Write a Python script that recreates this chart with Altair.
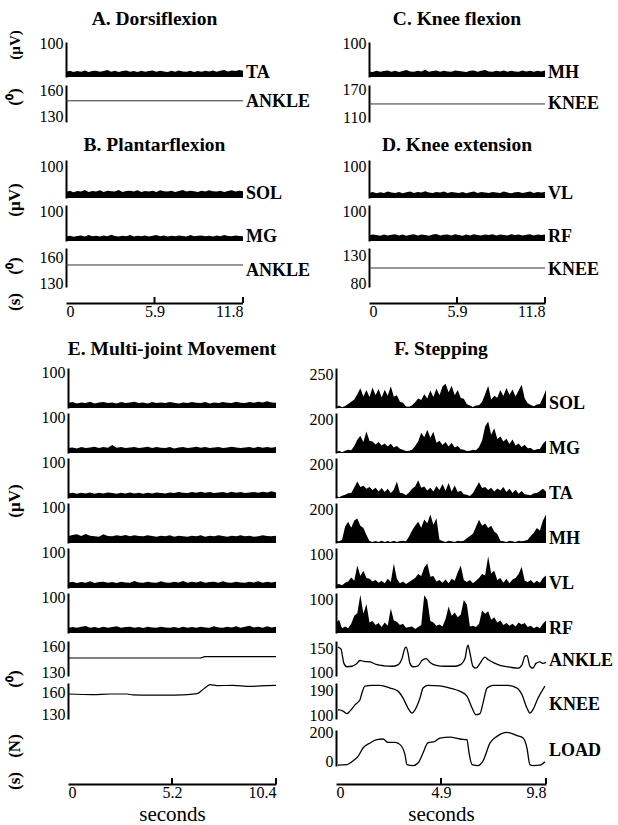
import altair as alt
import pandas as pd

FONT = "Liberation Serif"

# ---------------- time spans (s) ----------------
T_TOP, T_TOP_MID = 11.8, 5.9
T_E, T_E_MID = 10.4, 5.2
T_F, T_F_MID = 9.8, 4.9

# ---------------- A-D: isolated movements, EMG (uV) ----------------
A_TA = [16,19,15,18,16,20,15,18,19,16,18,21,16,19,15,18,20,16,18,15,19,16,18,20,
        16,19,17,15,19,16,20,17,16,19,15,18,16,19,17,20,16,19,21,17,20,18,21,19]
C_MH = [17,15,19,16,18,20,16,19,15,18,21,17,16,19,17,22,16,18,20,16,19,17,16,20,
        18,17,15,19,20,16,19,21,17,16,19,17,20,16,19,17,16,20,17,19,16,19,17,20]
B_SOL = [19,23,18,22,20,25,19,22,20,24,19,23,21,20,25,19,22,23,20,24,19,22,20,23,
         19,24,21,20,23,19,22,25,20,23,21,19,23,20,24,21,20,23,19,22,24,20,23,21]
B_MG = [15,18,14,17,19,15,20,16,18,15,19,16,21,17,15,18,16,20,15,18,16,19,15,18,
        20,16,19,15,18,16,19,17,15,20,16,18,19,16,18,15,19,16,20,17,16,19,17,16]
D_VL = [16,19,15,18,16,20,17,16,19,15,18,20,16,19,17,21,17,16,19,17,20,16,19,17,
        16,19,15,18,20,16,19,17,16,19,17,16,20,17,15,18,19,16,18,20,16,19,17,19]
D_RF = [19,22,20,18,22,19,21,23,19,22,18,21,23,19,22,20,18,22,24,19,21,22,19,23,
        20,18,22,19,23,20,19,22,20,23,19,22,20,19,23,20,22,19,21,23,19,22,20,22]
# joint angles held constant (deg)
A_ANKLE = 148.0
C_KNEE = 139.0
B_ANKLE = 150.8
D_KNEE = 106.8

# ---------------- E: multi-joint movement ----------------
E1 = [14,17,13,16,14,18,13,16,17,14,16,13,17,14,16,18,14,16,13,17,14,16,14,17,
      15,13,16,14,17,15,14,17,13,16,14,17,15,14,18,15,14,17,15,18,16,19,16,15]
E2 = [14,16,13,17,14,16,18,14,17,15,23,15,17,14,16,17,14,16,18,14,17,15,14,17,
      13,16,17,14,16,18,15,17,14,16,17,14,16,18,16,14,16,17,14,18,15,17,15,17]
E3 = [13,15,12,15,13,16,12,15,13,16,14,12,15,13,16,13,15,12,15,13,16,14,13,16,
      14,17,15,14,17,15,18,15,17,14,16,17,14,18,15,17,14,16,17,15,18,16,19,16]
E4 = [19,23,25,20,26,21,19,18,25,20,19,22,20,23,19,22,20,19,22,20,18,21,19,22,
      18,21,19,18,21,19,22,18,21,19,22,20,18,21,19,22,19,21,18,19,22,20,19,21]
E5 = [15,18,14,17,15,19,14,17,18,15,17,14,18,16,15,20,16,15,18,16,15,19,16,15,
      18,16,20,15,18,16,19,15,17,18,15,19,16,15,18,16,15,18,16,19,15,18,16,18]
E6 = [14,17,15,18,20,15,17,14,18,15,17,19,15,17,18,15,17,14,18,16,15,18,16,15,
      17,14,18,15,17,15,18,16,15,19,16,15,18,16,19,15,18,21,16,18,15,19,16,18]
E_ANKLE_T = [0, 6.6, 6.85, 10.4]
E_ANKLE_V = [147.3, 147.3, 148.8, 148.8]
E_KNEE_T = [0, 1.25, 2.1, 2.95, 3.25, 4.1, 4.95, 5.75, 6.45, 6.7, 6.95, 7.1, 7.45, 8.25, 9.1, 9.95, 10.4]
E_KNEE_V = [158.6, 157.7, 158.6, 158.6, 157.3, 157, 157, 157.3, 159, 163.6, 169, 171.3, 170, 170.4, 169, 170, 170.4]

# ---------------- F: stepping ----------------
F_SOL = [8,18,6,16,30,48,64,104,150,88,136,84,156,96,144,80,138,92,164,86,96,48,40,12,10,
         20,44,72,60,104,72,132,84,148,96,162,184,120,168,96,136,76,70,28,18,8,18,20,48,104,
         168,64,92,78,136,90,152,100,140,88,132,176,72,36,22,14,26,30,80,136]
F_MG = [6,14,5,13,20,16,42,80,104,66,130,74,70,52,66,46,58,40,56,34,42,26,20,12,14,
        20,42,70,122,96,140,92,128,62,74,48,66,40,62,34,42,22,20,12,14,20,17,36,76,160,
        190,110,150,84,100,70,86,54,82,46,58,36,50,28,30,16,22,24,56,74]
F_TA = [14,5,14,20,28,30,64,100,66,74,56,66,48,62,40,60,36,56,30,50,100,32,28,16,34,
        56,70,108,62,70,46,62,40,72,48,84,44,90,40,76,36,44,22,20,12,30,64,96,60,66,
        48,62,40,58,46,66,36,56,30,50,26,42,22,20,16,28,30,42,56,40]
F_MH = [13,10,19,100,128,92,136,148,104,90,48,12,6,12,6,13,6,12,6,13,6,12,13,10,40,
        76,104,128,92,142,120,172,110,150,20,12,6,13,10,6,13,10,13,28,42,56,98,140,104,118,
        90,104,70,54,13,10,6,13,10,6,13,10,13,20,42,62,90,76,136,172]
F_VL = [10,12,8,16,20,32,22,68,36,52,30,28,20,24,16,22,14,28,18,74,28,14,20,12,18,
        24,30,42,36,62,74,34,36,20,24,16,26,14,28,22,48,68,24,18,24,14,22,30,42,38,
        96,44,52,24,30,16,28,14,26,30,42,64,22,18,24,14,22,16,30,38]
F_RF = [30,40,14,20,14,28,52,60,116,58,88,32,36,24,30,18,32,22,74,38,34,24,28,16,18,
        20,12,18,24,114,100,36,32,22,26,20,42,80,52,62,48,56,100,86,20,22,18,28,68,58,
        66,40,48,32,38,24,30,22,28,20,32,26,30,18,22,14,20,14,28,38]
F_ANKLE_T = [0.09,0.23,0.37,0.51,0.75,0.93,1.12,1.31,1.59,1.87,2.24,2.61,2.89,3.08,3.22,3.27,3.36,3.45,
             3.59,3.83,4.01,4.2,4.39,4.67,5.09,5.55,5.83,6.02,6.11,6.16,6.25,6.39,6.53,6.72,6.95,7.09,
             7.37,7.65,8.12,8.49,8.68,8.82,8.91,9.05,9.19,9.33,9.52,9.66,9.8]
F_ANKLE_V = [152,148,118,111,112,116,124,122,121,116,113,112,115,128,150,152,140,118,
             111,113,124,128,120,114,112,112,116,128,150,156,140,112,108,118,131,126,
             119,114,110,108,115,133,134,112,108,118,121,118,120]
F_KNEE_T = [0.09,0.33,0.51,0.65,0.89,1.12,1.21,1.35,1.68,2.05,2.52,2.89,3.13,3.36,3.55,3.69,3.92,4.06,
            4.29,4.85,5.32,5.79,6.11,6.35,6.53,6.72,6.86,7.05,7.33,7.98,8.45,8.68,8.91,9.05,9.19,9.43,9.75]
F_KNEE_V = [119,114,105,114,137,155,179,204,207,207,197,186,161,125,107,119,161,197,
            207,205,197,185,168,125,101,105,143,197,207,207,197,173,125,107,119,161,204]
F_LOAD_T = [0.09,0.51,0.79,1.03,1.26,1.59,1.91,2.19,2.43,2.75,2.99,3.22,3.31,3.59,3.83,4.06,4.29,4.62,
            4.85,5.32,5.79,6.11,6.21,6.35,6.63,6.86,7.19,7.51,7.98,8.45,8.73,8.91,9.05,9.19,9.52,9.75]
F_LOAD_V = [-30,-26,0,33,93,129,152,157,133,133,117,45,-26,-33,-14,57,129,140,
            164,171,157,152,57,-26,-33,0,129,176,205,181,164,93,-26,-33,-30,-6]

# ---------------- layout (plot-area sizes) ----------------
TOP = (66, 177, 126, 176)      # left margin, left width, gap, right width
BOT = (68, 208, 60, 210)
TITLE_SIZE = 19.5


def yaxis(values):
    return alt.Axis(values=values, orient="left", domain=True, domainColor="black",
                    domainWidth=2, ticks=False, grid=False, labelFont=FONT,
                    labelFontSize=16, labelColor="black", labelPadding=3, title=None)


def xscale(T):
    return alt.Scale(domain=[0, T], nice=False, zero=False)


def label_layer(text, W, y, baseline, size):
    return alt.Chart(pd.DataFrame({"lab": [text]})).mark_text(
        align="left", baseline=baseline, font=FONT, fontSize=size, fontWeight="bold",
        color="black", dx=3).encode(text="lab:N", x=alt.value(W), y=y)


def emg(vals, T, W, H, D, tick, label=None, lsize=18):
    n = len(vals)
    df = pd.DataFrame({"t": [T * i / (n - 1) for i in range(n)], "v": vals})
    base = alt.Chart(df).mark_area(color="black", interpolate="linear").encode(
        x=alt.X("t:Q", scale=xscale(T), axis=None),
        y=alt.Y("v:Q", scale=alt.Scale(domain=[0, D], nice=False), axis=yaxis([tick])),
    )
    layers = [base]
    if label:
        layers.append(label_layer(label, W, alt.value(H + 0.5), "alphabetic", lsize))
    return alt.layer(*layers).properties(width=W, height=H)


def angle(ts, vs, T, W, H, dom, ticks, label=None, ly=0, color="black", sw=1.3, lsize=18):
    df = pd.DataFrame({"t": ts, "v": vs})
    base = alt.Chart(df).mark_line(color=color, strokeWidth=sw, interpolate="monotone").encode(
        x=alt.X("t:Q", scale=xscale(T), axis=None),
        y=alt.Y("v:Q", scale=alt.Scale(domain=dom, nice=False, zero=False), axis=yaxis(ticks)),
    )
    layers = [base]
    if label:
        layers.append(label_layer(label, W, alt.value(ly), "middle", lsize))
    return alt.layer(*layers).properties(width=W, height=H)


def taxis(T, mid, W, H=6, title=None):
    df = pd.DataFrame({"t": [mid, T]})
    return alt.Chart(df).mark_rule(color="black", strokeWidth=2).encode(
        x=alt.X("t:Q", scale=xscale(T), axis=alt.Axis(
            values=[0, mid, T], format=".1~f", domain=True, domainColor="black", domainWidth=2,
            ticks=False, grid=False, labelFlush=True, labelFont=FONT, labelFontSize=16,
            labelColor="black", labelPadding=0, title=title, titleFont=FONT, titleFontSize=21,
            titleFontWeight="normal", titleColor="black", titlePadding=3)),
        y=alt.value(0), y2=alt.value(H),
    ).properties(width=W, height=H)


def spacer(w, h, text=None, x=0, y=0, ang=0, size=16, weight="bold", fill=None):
    rows = [text] if text else []
    ch = alt.Chart(pd.DataFrame({"s": rows}, dtype=object)).mark_text(
        align="center", baseline="middle", angle=ang, font=FONT, fontSize=size,
        fontWeight=weight, color="black").encode(text="s:N", x=alt.value(x), y=alt.value(y))
    if fill:
        return ch.properties(width=w, height=h, view=alt.ViewBackground(fill=fill))
    return ch.properties(width=w, height=h)


def title_row(h, yc, dims, ltxt, rtxt):
    x0, WL, gap, WR = dims
    return [spacer(x0, h, fill="white"),
            spacer(WL, h, ltxt, x=WL / 2, y=yc, size=TITLE_SIZE),
            spacer(gap, h),
            spacer(WR, h, rtxt, x=WR / 2, y=yc, size=TITLE_SIZE)]


def data_row(h, dims, left, right, unit=None, uy=0, usize=17):
    x0, WL, gap, WR = dims
    return [spacer(x0, h, unit, x=15, y=uy, ang=270, size=usize),
            left, spacer(gap, h), right]


def vgap(g, dims, fill=None):
    x0, WL, gap, WR = dims
    return [spacer(x0, g), spacer(WL, g), spacer(gap, g, fill=fill), spacer(WR, g)]


def grid(cells):
    return alt.concat(*cells, columns=4, spacing=0, bounds="flush").resolve_scale(
        x="independent", y="independent")


tw, tr = TOP[1], TOP[3]
bw, br = BOT[1], BOT[3]

top = []
top += title_row(42, 19, TOP, "A. Dorsiflexion", "C. Knee flexion")
top += data_row(35, TOP, emg(A_TA, T_TOP, tw, 35, 106, 100, "TA"),
                emg(C_MH, T_TOP, tr, 35, 106, 100, "MH"), "(µV)", 3, 15)
top += vgap(8, TOP)
top += data_row(37, TOP,
                angle([0, T_TOP], [A_ANKLE, A_ANKLE], T_TOP, tw, 37, [124.4, 165.6], [130, 160],
                      "ANKLE", 17, "#333", 1),
                angle([0, T_TOP], [C_KNEE, C_KNEE], T_TOP, tr, 37, [98.9, 181.1], [110, 170],
                      "KNEE", 19, "#333", 1), "(⁰)", 12)
top += title_row(38, 23, TOP, "B. Plantarflexion", "D. Knee extension")
top += data_row(38, TOP, emg(B_SOL, T_TOP, tw, 38, 119, 100, "SOL"),
                emg(D_VL, T_TOP, tr, 38, 119, 100, "VL"), "(µV)", 40)
top += vgap(7, TOP)
top += data_row(36, TOP, emg(B_MG, T_TOP, tw, 36, 122, 100, "MG"),
                emg(D_RF, T_TOP, tr, 36, 122, 100, "RF"))
top += vgap(7, TOP)
top += data_row(39, TOP,
                angle([0, T_TOP], [B_ANKLE, B_ANKLE], T_TOP, tw, 39, [125.4, 170.4], [130, 160],
                      "ANKLE", 23, "#333", 1),
                angle([0, T_TOP], [D_KNEE, D_KNEE], T_TOP, tr, 39, [72.9, 142.5], [80, 130],
                      "KNEE", 22, "#333", 1), "(⁰)", 18)
top += vgap(10, TOP)
top += data_row(6, TOP, taxis(T_TOP, T_TOP_MID, tw), taxis(T_TOP, T_TOP_MID, tr), "(s)", 5)
top += vgap(30, TOP, fill="white")

bot = []
bot += title_row(35, 16, BOT, "E. Multi-joint Movement", "F. Stepping")
E_LIST = [E1, E2, E3, E4, E5, E6]
F_LIST = [(F_SOL, 303, 250, "SOL"), (F_MG, 242, 200, "MG"), (F_TA, 242, 200, "TA"),
          (F_MH, 242, 200, "MH"), (F_VL, 121, 100, "VL"), (F_RF, 121, 100, "RF")]
for k in range(6):
    fv, fd, ft, fl = F_LIST[k]
    bot += data_row(40, BOT, emg(E_LIST[k], T_E, bw, 40, 114, 100),
                    emg(fv, T_F, br, 40, fd, ft, fl, 18),
                    "(µV)" if k == 2 else None, 43)
    if k < 5:
        bot += vgap(4.5, BOT)

bot += vgap(7.5, BOT)
bot += data_row(35, BOT,
                angle(E_ANKLE_T, E_ANKLE_V, T_E, bw, 35, [126.5, 166.9], [130, 160], sw=1.2),
                angle(F_ANKLE_T, F_ANKLE_V, T_F, br, 35, [91.7, 164.6], [100, 150], "ANKLE", 20),
                "(⁰)", 38)
bot += vgap(7, BOT)
bot += data_row(36, BOT,
                angle(E_KNEE_T, E_KNEE_V, T_E, bw, 36, [124.5, 173.6], [130, 160], sw=1.2),
                angle(F_KNEE_T, F_KNEE_V, T_F, br, 36, [85.6, 215.2], [100, 190], "KNEE", 22))
bot += vgap(11, BOT)
bot += data_row(36, BOT, spacer(bw, 36),
                angle(F_LOAD_T, F_LOAD_V, T_F, br, 36, [-35.7, 221.4], [0, 200], "LOAD", 21),
                "(N)", 16)
bot += vgap(12, BOT)
bot += data_row(6, BOT, taxis(T_E, T_E_MID, bw, title="seconds"),
                taxis(T_F, T_F_MID, br, title="seconds"), "(s)", 3)

chart = alt.vconcat(grid(top), grid(bot), spacing=0).properties(
    padding=0, background="white"
).configure_view(strokeWidth=0)

chart.save("out.html", embed_options={"renderer": "svg", "actions": False})
